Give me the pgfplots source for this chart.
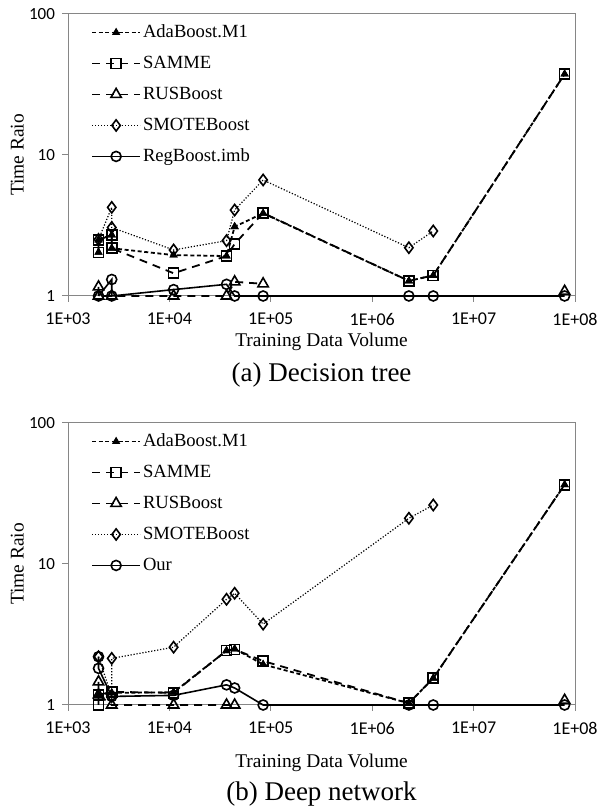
\documentclass[border=0pt]{standalone}
\usepackage{fontspec}
\setmainfont{Liberation Serif}
\newfontfamily\calibri{Carlito}
\usepackage{pgfplots}
\pgfplotsset{compat=1.18}

\definecolor{axgray}{RGB}{134,134,134}

\pgfplotsset{
  legend image code/.code={\draw[mark repeat=2, mark phase=2, #1]
    plot coordinates {(0pt,0pt) (12pt,0pt) (24pt,0pt)};},
  ada/.style={black, line width=0.9pt, dash pattern=on 2pt off 1.3pt,
    mark=triangle*, mark size=1.9pt, mark options={solid, fill=black, line width=0.5pt}},
  samme/.style={black, line width=0.9pt, dash pattern=on 4pt off 3pt,
    mark=square, mark size=2.5pt, mark options={solid, fill=white, line width=0.8pt}},
  rus/.style={black, line width=0.9pt, dash pattern=on 4pt off 3pt,
    mark=triangle, mark size=3pt, mark options={solid, fill=white, line width=0.8pt}},
  smote/.style={black, line width=0.6pt, dash pattern=on 0.6pt off 0.9pt,
    mark=diamond, mark size=2.8pt, mark options={solid, fill=white, line width=0.8pt}},
  reg/.style={black, line width=0.8pt, solid,
    mark=o, mark size=2.5pt, mark options={solid, fill=white, line width=0.8pt}},
}

\begin{document}
\begin{tikzpicture}
\useasboundingbox (0,0) rectangle (300pt,406pt);

% (a) Decision tree
\begin{axis}[at={(34pt,258pt)}, anchor=south west,
    scale only axis, width=253.5pt, height=141pt,
    xmode=log, ymode=log,
    xmin=1000, xmax=1e8, ymin=1, ymax=100,
    xtick={1e3,1e4,1e5,1e6,1e7,1e8},
    xticklabels={1E+03,1E+04,1E+05,1E+06,1E+07,1E+08},
    ytick={1,10,100}, yticklabels={1,10,100},
    xminorticks=false, yminorticks=false,
    tick pos=left, tick align=outside, major tick length=3pt,
    every tick/.style={axgray, line width=0.5pt},
    axis line style={axgray, line width=0.5pt},
    x tick label style={font=\calibri\fontsize{9}{10}\selectfont, yshift=-2pt},
    y tick label style={font=\calibri\fontsize{8.5}{10}\selectfont},
    xlabel={Training Data Volume}, ylabel={Time Raio},
    xlabel style={at={(axis description cs:0.5,-0.163)}, anchor=center, font=\fontsize{9.7}{11}\selectfont},
    ylabel style={at={(axis description cs:-0.1,0.5)}, anchor=center, font=\fontsize{9.7}{11}\selectfont},
    clip=false,
    legend style={draw=none, fill=none, at={(axis description cs:0.045,0.975)}, anchor=north west,
      inner sep=0pt, row sep=4.5pt, font=\fontsize{9.3}{11}\selectfont,
      nodes={inner sep=1pt, text height=7pt, text depth=2pt}},
    legend cell align=left]
\addplot[ada] coordinates {(2000,2.04) (2000,2.5) (2700,2.71) (2700,2.18) (11000,1.95) (36600,1.92) (44000,3.1) (84000,3.86) (2.3e6,1.28) (4e6,1.40) (7.9e7,37.5)};
\addlegendentry{AdaBoost.M1}
\addplot[samme] coordinates {(2000,2.04) (2000,2.5) (2700,2.71) (2700,2.18) (11000,1.45) (36600,1.92) (44000,2.34) (84000,3.88) (2.3e6,1.28) (4e6,1.40) (7.9e7,37.5)};
\addlegendentry{SAMME}
\addplot[rus] coordinates {(2000,1.16) (2000,1.0) (2700,1.0) (11000,1.0) (36600,1.0) (44000,1.26) (84000,1.22)};
\addlegendentry{RUSBoost}
\addplot[smote] coordinates {(2000,2.52) (2700,4.25) (2700,3.06) (11000,2.12) (36600,2.47) (44000,4.07) (84000,6.65) (2.3e6,2.2) (4e6,2.89)};
\addlegendentry{SMOTEBoost}
\addplot[reg] coordinates {(2000,1.0) (2700,1.31) (2700,1.0) (11000,1.11) (36600,1.21) (44000,1.0) (84000,1.0) (2.3e6,1.0) (4e6,1.0) (7.9e7,1.0)};
\addlegendentry{RegBoost.imb}
\addplot[rus, only marks, forget plot] coordinates {(7.9e7,1.08)};
\addplot[ada, only marks, forget plot] coordinates {(2000,2.04) (2000,2.5) (2700,2.71) (2700,2.18) (11000,1.95) (36600,1.92) (44000,3.1) (84000,3.86) (2.3e6,1.28) (4e6,1.40) (7.9e7,37.5)};
\node[font=\fontsize{13.5}{16}\selectfont] at (axis description cs:0.5,-0.28) {(a) Decision tree};
\end{axis}

% (b) Deep network
\begin{axis}[at={(34pt,53.5pt)}, anchor=south west,
    scale only axis, width=253.5pt, height=141pt,
    xmode=log, ymode=log,
    xmin=1000, xmax=1e8, ymin=1, ymax=100,
    xtick={1e3,1e4,1e5,1e6,1e7,1e8},
    xticklabels={1E+03,1E+04,1E+05,1E+06,1E+07,1E+08},
    ytick={1,10,100}, yticklabels={1,10,100},
    xminorticks=false, yminorticks=false,
    tick pos=left, tick align=outside, major tick length=3pt,
    every tick/.style={axgray, line width=0.5pt},
    axis line style={axgray, line width=0.5pt},
    x tick label style={font=\calibri\fontsize{9}{10}\selectfont, yshift=-2pt},
    y tick label style={font=\calibri\fontsize{8.5}{10}\selectfont},
    xlabel={Training Data Volume}, ylabel={Time Raio},
    xlabel style={at={(axis description cs:0.5,-0.205)}, anchor=center, font=\fontsize{9.7}{11}\selectfont},
    ylabel style={at={(axis description cs:-0.1,0.5)}, anchor=center, font=\fontsize{9.7}{11}\selectfont},
    clip=false,
    legend style={draw=none, fill=none, at={(axis description cs:0.045,0.975)}, anchor=north west,
      inner sep=0pt, row sep=4.5pt, font=\fontsize{9.3}{11}\selectfont,
      nodes={inner sep=1pt, text height=7pt, text depth=2pt}},
    legend cell align=left]
\addplot[ada] coordinates {(2000,1.18) (2700,1.22) (11000,1.23) (36600,2.43) (44000,2.5) (84000,1.94) (2.3e6,1.03) (4e6,1.55) (7.9e7,36.5)};
\addlegendentry{AdaBoost.M1}
\addplot[samme] coordinates {(2000,1.0) (2000,1.18) (2700,1.24) (11000,1.22) (36600,2.43) (44000,2.48) (84000,2.05) (2.3e6,1.03) (4e6,1.55) (7.9e7,36.5)};
\addlegendentry{SAMME}
\addplot[rus] coordinates {(2000,1.46) (2000,1.18) (2700,1.0) (11000,1.0) (36600,1.0) (44000,1.0)};
\addlegendentry{RUSBoost}
\addplot[smote] coordinates {(2000,2.2) (2700,1.15) (2700,2.14) (11000,2.57) (36600,5.62) (44000,6.2) (84000,3.75) (2.3e6,21.1) (4e6,26.2)};
\addlegendentry{SMOTEBoost}
\addplot[reg] coordinates {(2000,2.2) (2000,1.82) (2700,1.15) (11000,1.17) (36600,1.39) (44000,1.32) (84000,1.0) (2.3e6,1.0) (4e6,1.0) (7.9e7,1.0)};
\addlegendentry{Our}
\addplot[rus, only marks, forget plot] coordinates {(7.9e7,1.08)};
\addplot[ada, only marks, forget plot] coordinates {(2000,1.18) (2700,1.22) (11000,1.23) (36600,2.43) (44000,2.5) (84000,1.94) (2.3e6,1.03) (4e6,1.55) (7.9e7,36.5)};
\node[font=\fontsize{13.5}{16}\selectfont] at (axis description cs:0.5,-0.314) {(b) Deep network};
\end{axis}
\end{tikzpicture}
\end{document}
